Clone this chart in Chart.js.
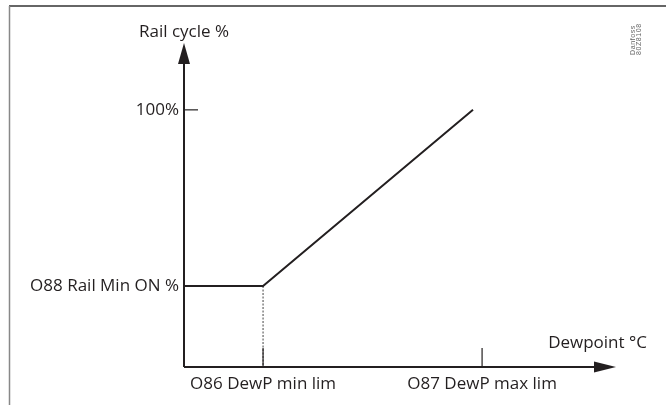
<!DOCTYPE html>
<html>
<head>
<meta charset="utf-8">
<script src="https://cdn.jsdelivr.net/npm/chart.js@4.4.0/dist/chart.umd.min.js"></script>
<style>
  html, body { margin: 0; padding: 0; background: #fff; }
  #wrap { width: 666px; height: 405px; }
</style>
</head>
<body>
<div id="wrap"><canvas id="railChart" width="666" height="405"></canvas></div>
<script>
// Arvot luettu kuvasta (x = kastepiste, y = kiskon jakso %)
const dewMin = 1.83;
const dewMax = 6.9;
const lineEndX = 6.69;
const railMinOn = 31.5;
const railMax = 100;

const curveX = [0, dewMin, lineEndX];
const curveY = [railMinOn, railMinOn, railMax];

const xTickValues = [dewMin, dewMax];
const xTickLabels = ['O86 DewP min lim', 'O87 DewP max lim'];
const yTickValues = [railMinOn, railMax];
const yTickLabels = ['O88 Rail Min ON %', '100%'];

const yTitle = 'Rail cycle %';
const xTitle = 'Dewpoint °C';
const stampLines = ['Danfoss', '80Z8108'];

const FONT = '17px "Open Sans", sans-serif';
const INK = '#231f20';

// Akselit, nuolet, tekstit ja kehys piirretään itse
const diagramPlugin = {
    id: 'diagram',
    beforeDraw(chart) {
        const c = chart.ctx;
        c.save();
        // kehys
        c.strokeStyle = '#333';
        c.lineWidth = 1.5;
        c.beginPath();
        c.moveTo(9, 6);
        c.lineTo(666, 6);
        c.stroke();
        c.strokeStyle = '#888';
        c.beginPath();
        c.moveTo(9.5, 6);
        c.lineTo(9.5, 405);
        c.stroke();
        c.restore();
    },
    afterDatasetsDraw(chart) {
        const c = chart.ctx;
        const xs = chart.scales.x;
        const ys = chart.scales.y;
        const x0 = xs.getPixelForValue(0);
        const y0 = ys.getPixelForValue(0);
        const xEnd = xs.right;
        const yEnd = ys.top;
        c.save();
        c.strokeStyle = INK;
        c.fillStyle = INK;
        c.lineWidth = 2;
        // y-akseli
        c.beginPath();
        c.moveTo(x0, y0);
        c.lineTo(x0, yEnd + 18);
        c.stroke();
        c.beginPath();
        c.moveTo(x0, yEnd);
        c.lineTo(x0 - 6, yEnd + 21);
        c.lineTo(x0 + 6, yEnd + 21);
        c.closePath();
        c.fill();
        // x-akseli
        c.beginPath();
        c.moveTo(x0, y0);
        c.lineTo(xEnd - 18, y0);
        c.stroke();
        c.beginPath();
        c.moveTo(xEnd, y0);
        c.lineTo(xEnd - 22, y0 - 5.5);
        c.lineTo(xEnd - 22, y0 + 5.5);
        c.closePath();
        c.fill();

        // tikit
        c.lineWidth = 1.2;
        xTickValues.forEach(v => {
            const px = xs.getPixelForValue(v);
            c.beginPath();
            c.moveTo(px, y0);
            c.lineTo(px, y0 - 19);
            c.stroke();
        });
        const py100 = ys.getPixelForValue(railMax);
        c.beginPath();
        c.moveTo(x0, py100);
        c.lineTo(x0 + 14, py100);
        c.stroke();

        // tekstit
        c.font = FONT;
        c.textBaseline = 'middle';
        c.textAlign = 'center';
        xTickValues.forEach((v, i) => {
            c.fillText(xTickLabels[i], xs.getPixelForValue(v), y0 + 17);
        });
        c.textAlign = 'right';
        yTickValues.forEach((v, i) => {
            c.fillText(yTickLabels[i], x0 - 5, ys.getPixelForValue(v));
        });
        c.textAlign = 'center';
        c.fillText(yTitle, x0, 32);
        c.textAlign = 'right';
        c.fillText(xTitle, 647, y0 - 24);

        // leima
        c.fillStyle = '#666';
        c.font = '7px "Liberation Sans", sans-serif';
        c.letterSpacing = '0.6px';
        c.translate(635, 55);
        c.rotate(-Math.PI / 2);
        c.textAlign = 'left';
        c.textBaseline = 'alphabetic';
        c.fillText(stampLines[0], 0, 0);
        c.fillText(stampLines[1], 0, 6);
        c.restore();
    }
};

const ctx = document.getElementById('railChart').getContext('2d');
const railChart = new Chart(ctx, {
    type: 'line',
    data: {
        datasets: [{
            label: 'Rail cycle',
            data: curveX.map((x, i) => ({ x: x, y: curveY[i] })),
            borderColor: INK,
            borderWidth: 2,
            pointRadius: 0,
            tension: 0,
            fill: false
        }, {
            label: 'Min lim',
            data: [{ x: dewMin, y: railMinOn }, { x: dewMin, y: 0 }],
            borderColor: '#444',
            borderWidth: 1,
            borderDash: [2, 1.5],
            pointRadius: 0,
            fill: false
        }]
    },
    options: {
        responsive: false,
        animation: false,
        events: [],
        layout: {
            padding: { left: 184, right: 50, top: 43, bottom: 38 }
        },
        plugins: {
            legend: { display: false },
            tooltip: { enabled: false }
        },
        scales: {
            x: { type: 'linear', min: 0, max: 10, display: false },
            y: { type: 'linear', min: 0, max: 126, display: false }
        }
    },
    plugins: [diagramPlugin]
});
</script>
</body>
</html>
